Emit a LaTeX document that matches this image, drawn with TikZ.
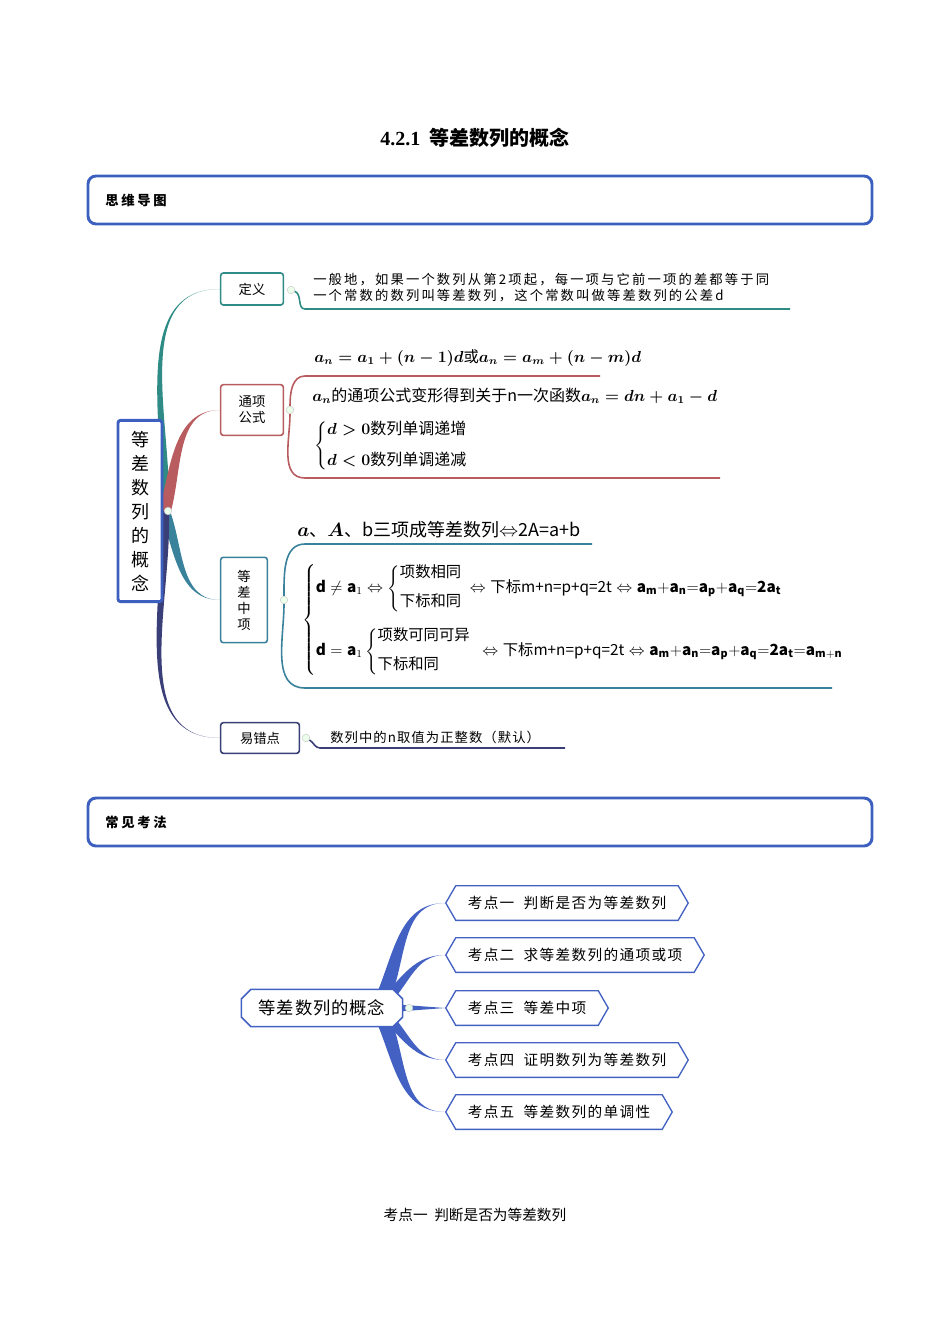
\documentclass[tikz,border=0pt]{standalone}
\usepackage{amsmath,amssymb}
\usepackage{fontspec}
\setmainfont{Noto Sans CJK SC}
\newfontfamily\serifcjk{Liberation Serif}
\usetikzlibrary{calc,shapes.misc,shapes.symbols,backgrounds}
\definecolor{frameblue}{RGB}{61,95,191}
\definecolor{mapteal}{RGB}{46,139,133}
\definecolor{mapred}{RGB}{184,92,96}
\definecolor{mapcyan}{RGB}{58,130,155}
\definecolor{mappurple}{RGB}{59,63,120}
\definecolor{mapblue}{RGB}{67,97,194}
\tikzset{
  header/.style={draw=frameblue,line width=2.2pt,rounded corners=6pt},
  topic/.style={draw=#1,line width=1.2pt,fill=white,rounded corners=2pt,font=\fontsize{10}{12}\selectfont,align=center},
  point/.style={draw=mapblue,line width=1pt,fill=white,shape=signal,signal to=west and east,
    signal pointer angle=120,inner xsep=9pt,minimum height=26pt,
    font=\fontsize{11}{12}\selectfont\addfontfeature{LetterSpace=9},anchor=west},
  body/.style={anchor=west,inner sep=0pt,font=\fontsize{#1}{14}\selectfont},
  body/.default=10,
  knob/.style={circle,fill=green!8,draw=gray!40,inner sep=2pt}
}
\newcommand\limb[5]{\fill[#1] ($#2+#5$) to[out=#4,in=180] #3 to[out=180,in=#4] ($#2-#5$) -- cycle;}
\begin{document}
\begin{tikzpicture}[x=0.75pt,y=0.75pt]
\useasboundingbox (0,0) rectangle (950,-1344);
% title and headers
\node[font=\fontsize{15}{18}\selectfont\bfseries] (title) at (475,-138) {{\serifcjk 4.2.1}\ \ 等差数列的概念};
\draw[header] (88,-176) rectangle (872,-224);
\node[body=13,font=\bfseries\addfontfeature{LetterSpace=20}] (h1) at (105,-200) {思维导图};
\draw[header] (88,-798) rectangle (872,-846);
\node[body=13,font=\bfseries\addfontfeature{LetterSpace=20}] (h2) at (105,-822) {常见考法};

% first map: branches
\coordinate (hub) at (165,-511);
\node[topic=mapteal,minimum width=47pt,minimum height=24pt] (def) at (252,-289) {定义};
\node[topic=mapred,minimum width=47pt,minimum height=38pt] (gen) at (252,-410) {通项\\公式};
\node[topic=mapcyan,minimum width=35pt,minimum height=64pt] (mid) at (244,-600) {等\\差\\中\\项};
\node[topic=mappurple,minimum width=59pt,minimum height=23pt] (err) at (260,-738) {易错点};
\begin{scope}[on background layer]
\limb{mapteal}{(hub)}{(def.west)}{88}{(-4,0)}
\limb{mapred}{(hub)}{(gen.west)}{75}{(-6,0)}
\limb{mapcyan}{(hub)}{(mid.west)}{-70}{(-5,0)}
\limb{mappurple}{(hub)}{(err.west)}{-88}{(-4,0)}
\end{scope}
\node[draw=frameblue,line width=2.2pt,fill=white,rounded corners=2pt,minimum width=33pt,minimum height=136pt,
  font=\fontsize{13.5}{18}\selectfont,align=center] (root) at (140,-511) {等\\差\\数\\列\\的\\概\\念};
\node[knob] (k0) at (168,-511) {};

% definition
\node[knob] (k1) at (291,-290) {};
\draw[mapteal,line width=1.2pt] (k1) to[out=-20,in=180] (305,-309) coordinate (d1) -- (790,-309) coordinate (d2);
\node[body=10,align=left,font=\addfontfeature{LetterSpace=16}] (deftext) at (313,-288) {一般地，如果一个数列从第2项起，每一项与它前一项的差都等于同\\一个常数的数列叫等差数列，这个常数叫做等差数列的公差d};

% general term
\node[knob] (k2) at (290,-410) {};
\draw[mapred,line width=1.2pt] (600,-376) -- (305,-376) to[out=180,in=90] (k2) to[out=-90,in=180] (305,-478) -- (720,-478);
\node[body=11.5] (g1) at (314,-358) {$\boldsymbol{a_n=a_1+(n-1)d}$或$\boldsymbol{a_n=a_m+(n-m)d}$};
\node[body=12] (g2) at (312,-396) {$\boldsymbol{a_n}$的通项公式变形得到关于n一次函数$\boldsymbol{a_n=dn+a_1-d}$};
\node[body=12] (g3) at (314,-446) {$\left\{\begin{array}{@{}l}\boldsymbol{d>0}\text{数列单调递增}\\[9pt]\boldsymbol{d<0}\text{数列单调递减}\end{array}\right.$};

% middle term
\node[knob] (k3) at (284,-600) {};
\draw[mapcyan,line width=1.2pt] (592,-544) -- (305,-544) to[out=180,in=90] (k3) to[out=-90,in=180] (305,-688) -- (832,-688);
\node[body=13.5] (m1) at (297,-530) {$\boldsymbol{a}$、$\boldsymbol{A}$、b三项成等差数列$\Leftrightarrow$2A=a+b};
\node[body=11.5] (m2) at (302,-620) {$\left\{\begin{array}{@{}l}
 \mathbf{d}\neq\mathbf{a}_1\Leftrightarrow\left\{\begin{array}{@{}l}\text{项数相同}\\[8pt]\text{下标和同}\end{array}\right.\kern-3pt\Leftrightarrow\text{下标m+n=p+q=2t}\Leftrightarrow\mathbf{a_m{+}a_n{=}a_p{+}a_q{=}2a_t}\\[22pt]
 \mathbf{d}=\mathbf{a}_1\left\{\begin{array}{@{}l}\text{项数可同可异}\\[8pt]\text{下标和同}\end{array}\right.\Leftrightarrow\text{下标m+n=p+q=2t}\Leftrightarrow\mathbf{a_m{+}a_n{=}a_p{+}a_q{=}2a_t{=}a_{m+n}}
\end{array}\right.$};

% common error
\node[knob] (k4) at (306,-738) {};
\draw[mappurple,line width=1.2pt] (k4) to[out=-30,in=180] (320,-748) -- (565,-748);
\node[body=10,font=\addfontfeature{LetterSpace=8}] (errtext) at (330,-737) {数列中的n取值为正整数（默认）};

% second map
\node[draw=mapblue,line width=1.2pt,fill=white,chamfered rectangle,minimum width=121pt,minimum height=28pt,
  font=\fontsize{13}{15}\selectfont\addfontfeature{LetterSpace=5}] (core) at (322,-1008) {等差数列的概念};
\node[point] (p1) at (445,-903) {考点一\ \ 判断是否为等差数列};
\node[point] (p2) at (445,-955) {考点二\ \ 求等差数列的通项或项};
\node[point] (p3) at (445,-1008) {考点三\ \ 等差中项};
\node[point] (p4) at (445,-1060) {考点四\ \ 证明数列为等差数列};
\node[point] (p5) at (445,-1112) {考点五\ \ 等差数列的单调性};
\coordinate (hub2) at (378,-1008);
\begin{scope}[on background layer]
\limb{mapblue}{(hub2)}{(p1.west)}{62}{(-8,0)}
\limb{mapblue}{(hub2)}{(p2.west)}{40}{(-7,0)}
\fill[mapblue] ($(hub2)+(0,5)$) -- (p3.west) -- ($(hub2)+(0,-5)$) -- cycle;
\limb{mapblue}{(hub2)}{(p4.west)}{-40}{(-7,0)}
\limb{mapblue}{(hub2)}{(p5.west)}{-62}{(-8,0)}
\end{scope}
\node[knob] (k5) at (409,-1008) {};

% caption
\node[font=\fontsize{11}{13}\selectfont] (cap) at (475,-1215) {考点一\ \ 判断是否为等差数列};
\end{tikzpicture}
\end{document}
